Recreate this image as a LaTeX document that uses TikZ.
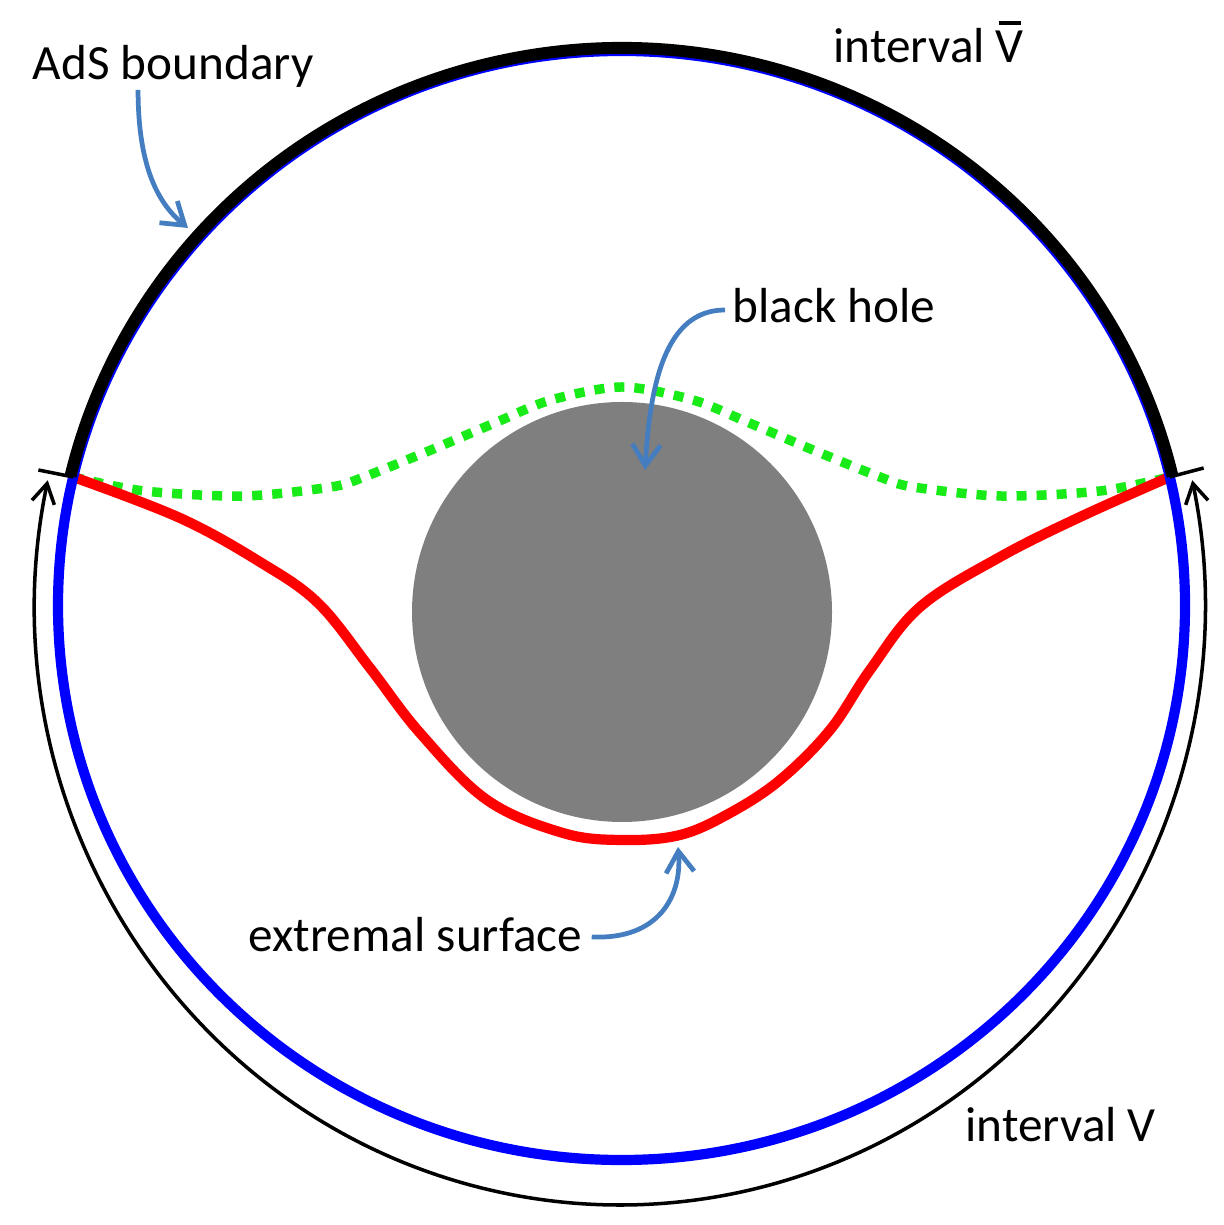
\documentclass[tikz,border=0pt]{standalone}
\usepackage{fontspec}
\setmainfont{Carlito}
\usetikzlibrary{arrows.meta,calc}
\definecolor{arrowblue}{RGB}{68,125,192}
\definecolor{dotgreen}{RGB}{25,235,25}
\definecolor{holegray}{RGB}{127,127,127}
\newcommand{\Vbar}{\ooalign{V\cr\hidewidth\rule[0.78em]{0.45em}{0.065em}\hidewidth\cr}}
\begin{document}
\begin{tikzpicture}[x=0.01cm,y=0.01cm,
  lbl/.style={inner sep=0pt,anchor=base west,font=\fontsize{14}{17}\selectfont},
  pointer/.style={arrowblue,line width=1.35pt,-{Straight Barb[length=6pt,width=8pt]}},
  barb/.tip={Straight Barb[length=5.5pt,width=6.5pt]}]
\useasboundingbox (0,0) rectangle (1223,1225);
\coordinate (O) at (621.5,619.5);
\coordinate (Oo) at (620,620);
\coordinate (L) at ($(O)+(166.6:563.5 and 554.5)$);
\coordinate (R) at ($(O)+(13.4:563.5 and 554.5)$);
\fill[holegray] (622,613) circle[radius=210];
\draw[dotgreen, line width=2.7pt, dash pattern=on 2.85pt off 2.85pt] plot[smooth] coordinates {
  (L) (144,734) (244,729) (331,738) (364,748) (431,775) (497,803) (551,825) (622,838)
  (693,825) (747,803) (813,775) (880,748) (913,738) (1000,729) (1100,734) (R)};
\draw[red, line width=2.9pt] plot[smooth, tension=0.6] coordinates {
  (L) (180,707) (260,663) (318,622) (370,557) (420,492) (487,425) (563,392) (622,385)
  (680,390) (730,412) (780,445) (830,495) (870,555) (920,618) (1000,668) (1080,708) (R)};
\draw[blue, line width=2.9pt] (O) circle[x radius=563.5, y radius=554.5];
\draw[line width=3.4pt] ($(O)+(13.4:566.5 and 557.5)$) arc[start angle=13.4, end angle=166.6, x radius=566.5, y radius=557.5];
\draw[line width=1pt, barb-barb] ($(Oo)+(168:585 and 600)$) arc[start angle=168, end angle=372, x radius=585, y radius=600];
\draw[line width=1pt] (L) -- ++(-35,7);
\draw[line width=1pt] (R) -- ++(34,9);
\node[lbl] (ads) at (32,1145) {AdS boundary};
\node[lbl] (vbar) at (833,1162) {interval \Vbar};
\node[lbl] (bh) at (732,902) {black hole};
\node[lbl] (ext) at (248,273) {extremal surface};
\node[lbl] (vint) at (965,83) {interval V};
\coordinate (adsTip) at (188,997);
\coordinate (bhTip) at (645,755);
\coordinate (extTip) at (678,378);
\draw[pointer] ([xshift=1.06cm,yshift=-0.1cm]ads.base west) .. controls +(0,-80) and +(-28,23) .. (adsTip);
\draw[pointer] ([xshift=-0.07cm,yshift=0.13cm]bh.base west) .. controls +(-60,0) and +(5,85) .. (bhTip);
\draw[pointer] ([xshift=0.09cm,yshift=0.15cm]ext.base east) .. controls +(68,-3) and +(4,-48) .. (extTip);
\end{tikzpicture}
\end{document}
